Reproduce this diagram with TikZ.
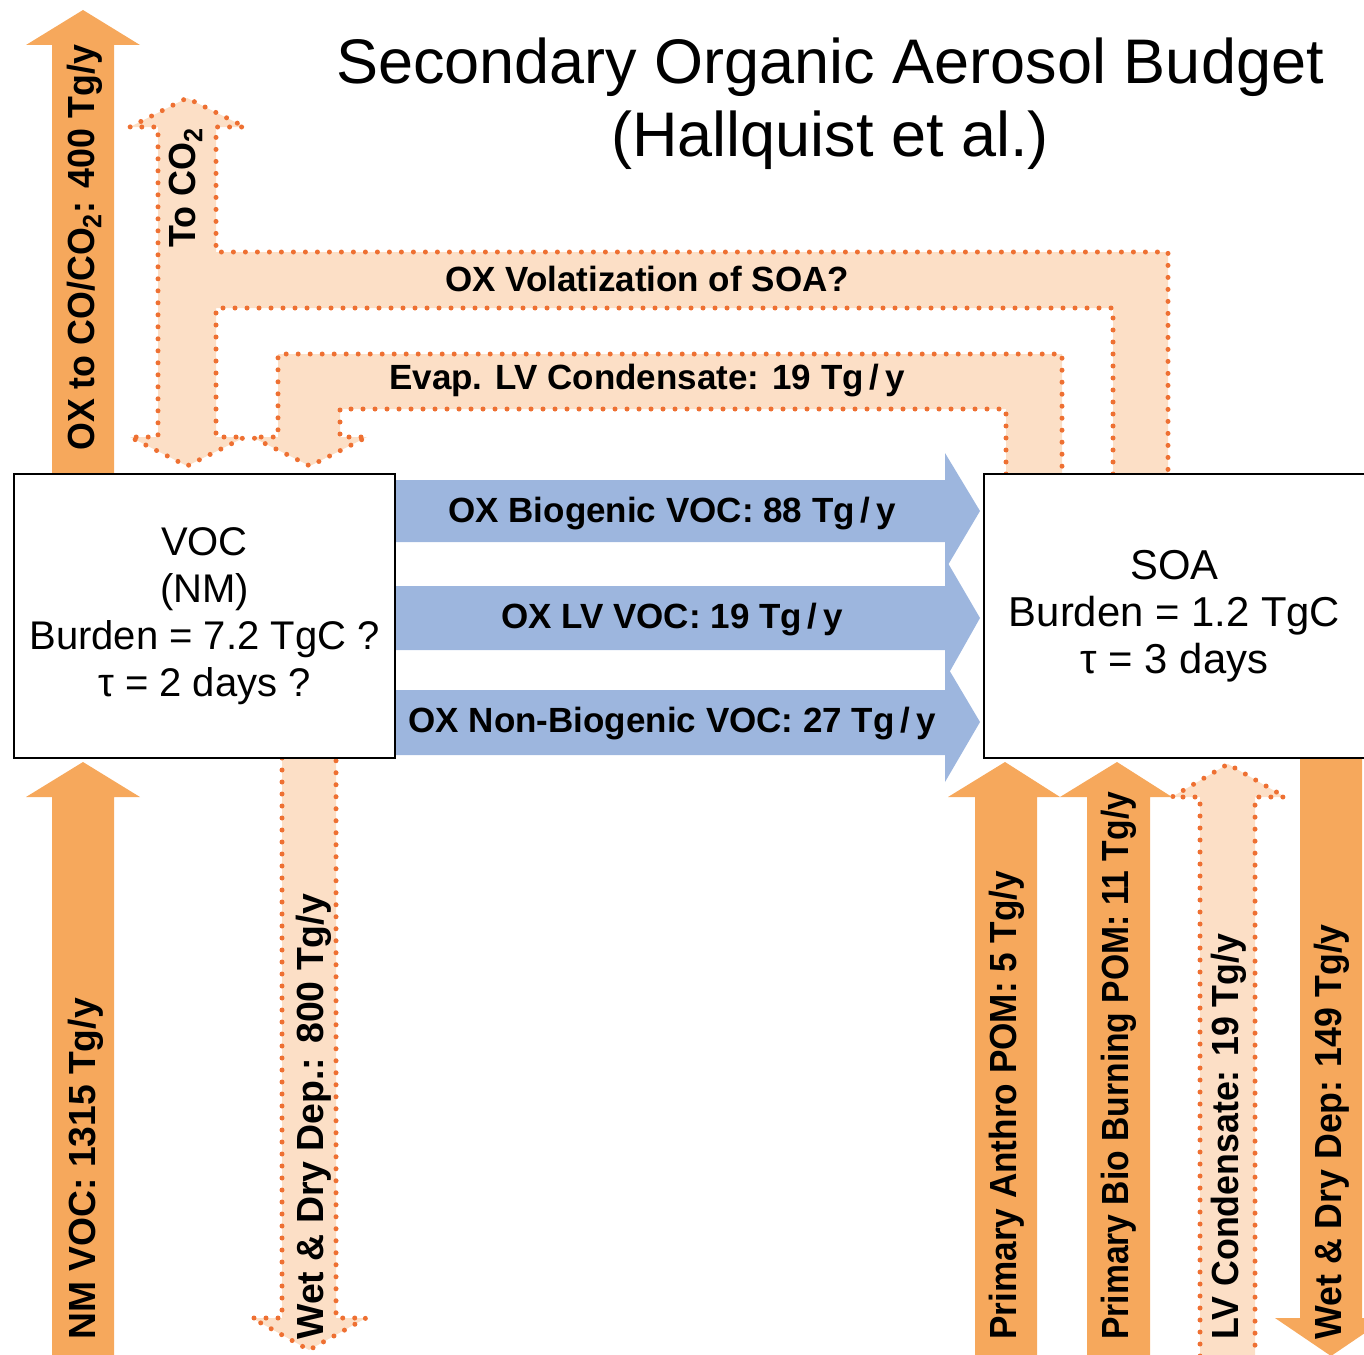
\documentclass[tikz,border=0pt]{standalone}
\usepackage{fontspec}
\setmainfont{Liberation Sans}
\definecolor{solidor}{RGB}{246,168,92}
\definecolor{peach}{RGB}{252,223,198}
\definecolor{dotc}{RGB}{238,112,50}
\definecolor{bluea}{RGB}{157,182,222}
\newcommand{\narrowlbl}[2]{\scalebox{#1}[1]{#2}}
\tikzset{
 solidarrow/.style={fill=solidor, draw=none},
 peachfill/.style={fill=peach, draw=none},
 dotline/.style={draw=dotc, line width=2.5pt, line cap=round, dash pattern=on 0pt off 6pt},
 bluearrow/.style={fill=bluea, draw=none},
 flowbox/.style={draw=black, line width=1.2pt, fill=white, align=center, inner sep=0pt,
   font=\fontsize{20pt}{23.6pt}\selectfont},
 lab/.style={font=\fontsize{17.5pt}{20pt}\selectfont\bfseries, inner sep=0pt},
 vlab/.style={font=\fontsize{18.9pt}{22pt}\selectfont\bfseries, inner sep=0pt, rotate=90, anchor=west},
 titletext/.style={font=\fontsize{31.5pt}{36pt}\selectfont, inner sep=0pt},
}
\begin{document}
\begin{tikzpicture}[x=0.5pt,y=-0.5pt]
\useasboundingbox (0,0) rectangle (1364,1354);
% ---- peach dotted flows ----
% OX volatization + To CO2
\fill[peachfill] (1113,474) -- (1113,308) -- (216,308) -- (216,437) -- (245,437) -- (187,466) -- (130,437) -- (158,437) -- (158,127) -- (130,127) -- (187,98) -- (245,127) -- (216,127) -- (216,252) -- (1168,252) -- (1168,474) -- cycle;
\draw[dotline] (1113,474) -- (1113,308) -- (216,308) -- (216,437) -- (245,437) -- (187,466) -- (130,437) -- (158,437) -- (158,127) -- (130,127) -- (187,98) -- (245,127) -- (216,127) -- (216,252) -- (1168,252) -- (1168,474);
% Evap LV condensate
\fill[peachfill] (1006,474) -- (1006,409) -- (340,409) -- (340,437) -- (367,437) -- (310,466) -- (252,437) -- (278,437) -- (278,354) -- (1062,354) -- (1062,474) -- cycle;
\draw[dotline] (1006,474) -- (1006,409) -- (340,409) -- (340,437) -- (367,437) -- (310,466) -- (252,437) -- (278,437) -- (278,354) -- (1062,354) -- (1062,474);
% Wet & Dry Dep 800
\fill[peachfill] (282,758) -- (282,1318) -- (252,1318) -- (309,1350) -- (366,1318) -- (336,1318) -- (336,758) -- cycle;
\draw[dotline] (282,758) -- (282,1318) -- (252,1318) -- (309,1350) -- (366,1318) -- (336,1318) -- (336,758);
% LV Condensate
\fill[peachfill] (1200,1356) -- (1200,797) -- (1172,797) -- (1228,764) -- (1285,797) -- (1255,797) -- (1255,1356) -- cycle;
\draw[dotline] (1200,1356) -- (1200,797) -- (1172,797) -- (1228,764) -- (1285,797) -- (1255,797) -- (1255,1356);
% ---- solid orange arrows ----
\fill[solidarrow] (52,474) -- (52,45) -- (26,45) -- (83,10) -- (140,45) -- (114,45) -- (114,474) -- cycle;
\fill[solidarrow] (52,1356) -- (52,797) -- (26,797) -- (83,762) -- (140,797) -- (114,797) -- (114,1356) -- cycle;
\fill[solidarrow] (975,1356) -- (975,797) -- (948,797) -- (1005,762) -- (1060,797) -- (1037,797) -- (1037,1356) -- cycle;
\fill[solidarrow] (1087,1356) -- (1087,797) -- (1060,797) -- (1117,762) -- (1172,797) -- (1150,797) -- (1150,1356) -- cycle;
\fill[solidarrow] (1300,758) -- (1300,1318) -- (1275,1318) -- (1331,1356) -- (1387,1318) -- (1362,1318) -- (1362,758) -- cycle;
% ---- blue arrows ----
\fill[bluearrow] (395,480) -- (945,480) -- (945,453) -- (980,511) -- (945,570) -- (945,542) -- (395,542) -- cycle;
\fill[bluearrow] (395,586) -- (945,586) -- (945,558) -- (980,618) -- (945,680) -- (945,650) -- (395,650) -- cycle;
\fill[bluearrow] (395,690) -- (945,690) -- (945,663) -- (980,722) -- (945,782) -- (945,755) -- (395,755) -- cycle;
% ---- boxes ----
\node[flowbox, minimum width=190.5pt, minimum height=142pt] (voc) at (204.5,616)
  {VOC\\(NM)\\Burden = 7.2 TgC ?\\τ = 2 days ?};
\node[flowbox, minimum width=190.5pt, minimum height=142pt, font=\fontsize{20.9pt}{23.6pt}\selectfont] (soa) at (1174.5,616)
  {SOA\\Burden = 1.2 TgC\\τ = 3 days};
% ---- title ----
\node[titletext] (t1) at (830,67) {Secondary Organic Aerosol Budget};
\node[titletext] (t2) at (830,140) {(Hallquist et al.)};
% ---- labels ----
\node[lab] (l1) at (672,514) {OX Biogenic VOC: 88 Tg\,/\,y};
\node[lab] (l2) at (672,620) {OX LV VOC: 19 Tg\,/\,y};
\node[lab] (l3) at (672,724) {OX Non-Biogenic VOC: 27 Tg\,/\,y};
\node[lab] (l4) at (647,279) {OX Volatization of SOA?};
\node[lab] (l5) at (647,381) {Evap. LV Condensate: 19 Tg\,/\,y};
\node[vlab] (v1) at (85,451) {\narrowlbl{0.946}{OX to CO/CO\textsubscript{2}: 400 Tg/y}};
\node[vlab] (v2) at (186,248) {\narrowlbl{0.95}{To CO\textsubscript{2}}};
\node[vlab] (v3) at (86,1340) {\narrowlbl{0.985}{NM VOC: 1315 Tg/y}};
\node[vlab] (v4) at (314,1340) {\narrowlbl{0.99}{Wet \& Dry Dep.: 800 Tg/y}};
\node[vlab] (v5) at (1007,1340) {\narrowlbl{0.93}{Primary Anthro POM: 5 Tg/y}};
\node[vlab] (v6) at (1119,1340) {\narrowlbl{0.89}{Primary Bio Burning POM: 11 Tg/y}};
\node[vlab] (v7) at (1229,1340) {\narrowlbl{0.946}{LV Condensate: 19 Tg/y}};
\node[vlab] (v8) at (1332,1340) {\narrowlbl{0.945}{Wet \& Dry Dep: 149 Tg/y}};
\end{tikzpicture}
\end{document}
